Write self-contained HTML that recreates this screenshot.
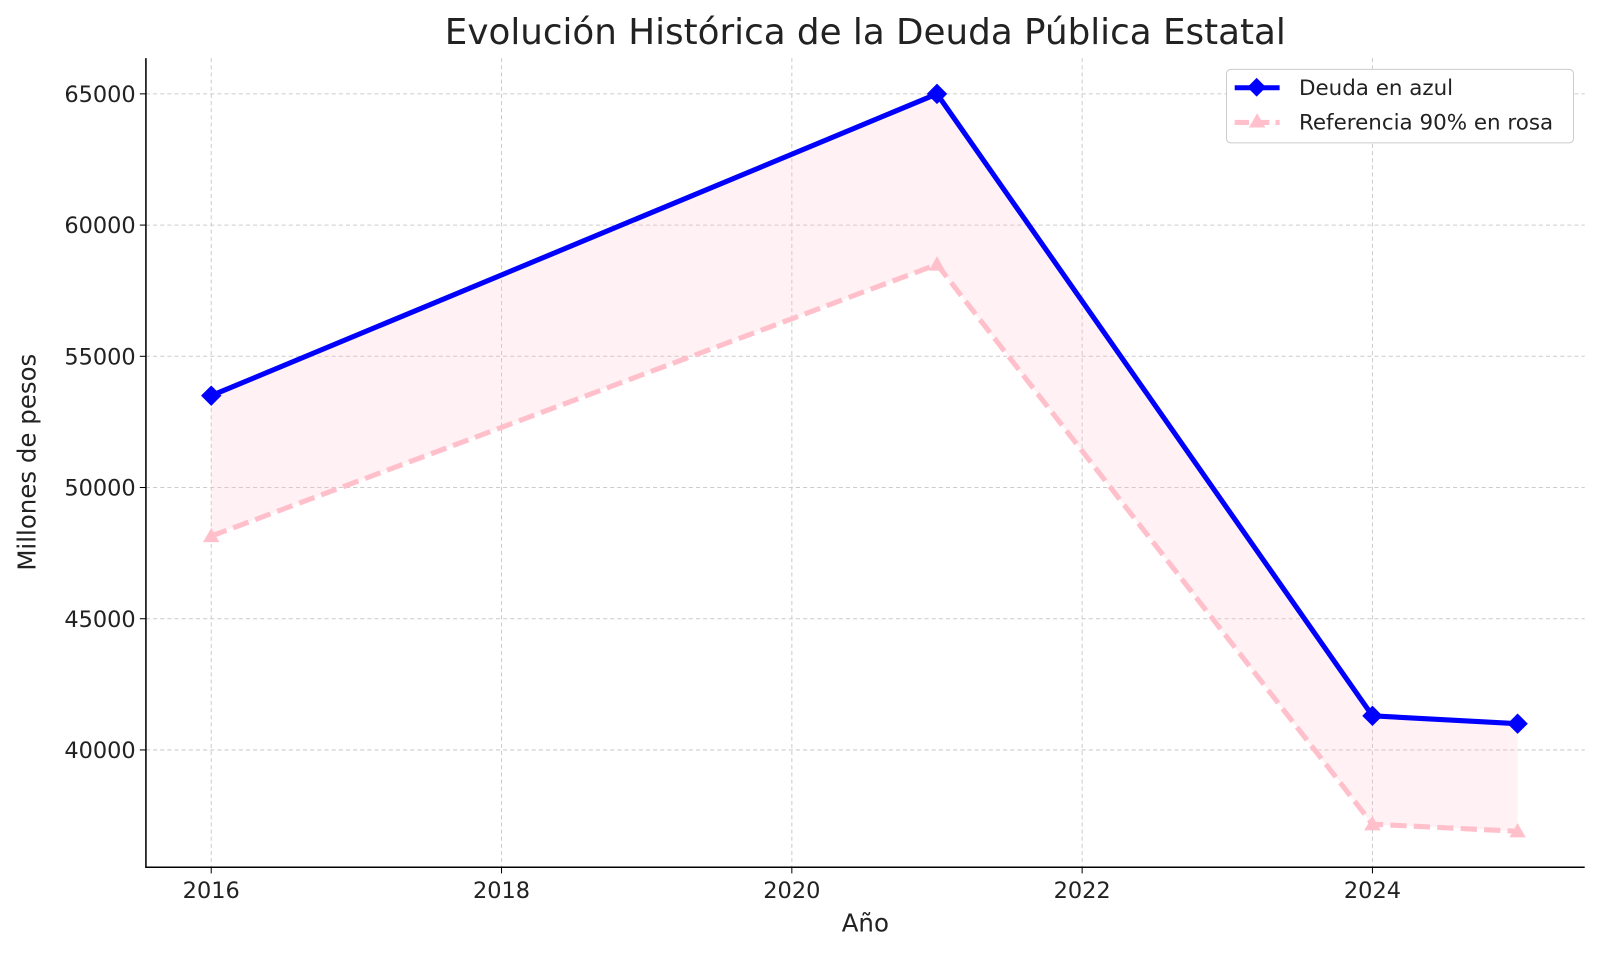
<!DOCTYPE html>
<html><head><meta charset="utf-8"><style>
body{margin:0;background:#fff;}
svg text{font-family:"DejaVu Sans","Liberation Sans",sans-serif;fill:#222;}
</style></head><body>
<svg id="chart" width="1600" height="954" viewBox="0 0 1568 935" preserveAspectRatio="none" xmlns="http://www.w3.org/2000/svg">
<text x="848" y="43" font-size="35" text-anchor="middle" fill="#333">Evolución Histórica de la Deuda Pública Estatal</text>
<g id="grid"></g><g id="fill"></g><g id="series"></g><g id="axes"></g>
<text x="848" y="913" font-size="24" text-anchor="middle">Año</text>
<text transform="translate(35,453) rotate(-90)" font-size="24" text-anchor="middle">Millones de pesos</text>
<g>
<rect x="1202" y="68" width="340" height="72" rx="4" fill="#fff" stroke="#ccc"/>
<line x1="1210" y1="86" x2="1254" y2="86" stroke="#0000ff" stroke-width="5"/>
<rect x="1225" y="79" width="13" height="13" fill="#0000ff" transform="rotate(45 1231.5 85.5)"/>
<text x="1273" y="93" font-size="21">Deuda en azul</text>
<line x1="1210" y1="120" x2="1254" y2="120" stroke="#ffc0cb" stroke-width="5" stroke-dasharray="14,6"/>
<polygon points="1232,111 1240,125 1224,125" fill="#ffc0cb"/>
<text x="1273" y="127" font-size="21">Referencia 90% en rosa</text>
</g>
</svg>
<script>
const years=[2016,2021,2024,2025];
const deuda=[53500,65000,41300,41000];
const referencia=[48150,58500,37170,36900];
const xTicks=[2016,2018,2020,2022,2024];
const yTicks=[40000,45000,50000,55000,60000,65000];
const L=143,R=1553,T=57,B=850;
const xs=v=>207+(v-2016)*142.25;
const ys=v=>92+(65000-v)*0.025720;
const NS="http://www.w3.org/2000/svg";
function mk(tag,attrs,parent){const e=document.createElementNS(NS,tag);for(const k in attrs)e.setAttribute(k,attrs[k]);document.getElementById(parent).appendChild(e);return e;}
xTicks.forEach(t=>{
 const g=mk('line',{x1:xs(t),x2:xs(t),y1:T,y2:B,stroke:'#ccc','stroke-dasharray':'4,3'},'grid');
 
 
 const k=mk('line',{x1:xs(t),x2:xs(t),y1:B,y2:B+6,stroke:'#000'},'axes');
 
 
 const tx=mk('text',{x:xs(t),y:B+30,'font-size':22,'text-anchor':'middle'},'axes');tx.textContent=t;
 
 
});
yTicks.forEach(t=>{
 const g=mk('line',{x1:L,x2:R,y1:ys(t),y2:ys(t),stroke:'#ccc','stroke-dasharray':'4,3'},'grid');
 
 
 const k=mk('line',{x1:L-6,x2:L,y1:ys(t),y2:ys(t),stroke:'#000'},'axes');
 
 
 const tx=mk('text',{x:L-10,y:ys(t)+8,'font-size':22,'text-anchor':'end'},'axes');tx.textContent=t;
 
 
});
const ax=mk('path',{d:`M${L},${T}V${B}H${R}`,fill:'none',stroke:'#000','stroke-width':1.5},'axes');


let pts=years.map((y,i)=>xs(y)+','+ys(deuda[i])).concat(years.slice().reverse().map((y,j)=>xs(y)+','+ys(referencia[years.length-1-j])));
const f=mk('polygon',{points:pts.join(' '),fill:'#ffc0cb','fill-opacity':0.22},'fill');


const rl=mk('polyline',{points:years.map((y,i)=>xs(y)+','+ys(referencia[i])).join(' '),fill:'none',stroke:'#ffc0cb','stroke-width':5,'stroke-dasharray':'16,7'},'series');


years.forEach((y,i)=>{const x=xs(y),v=ys(referencia[i]);
 const m=mk('polygon',{points:`${x},${v-8} ${x+8},${v+6} ${x-8},${v+6}`,fill:'#ffc0cb'},'series');
 
 });
const dl=mk('polyline',{points:years.map((y,i)=>xs(y)+','+ys(deuda[i])).join(' '),fill:'none',stroke:'#0000ff','stroke-width':5,'stroke-linejoin':'round'},'series');


years.forEach((y,i)=>{const x=xs(y),v=ys(deuda[i]);
 const m=mk('polygon',{points:`${x},${v-10} ${x+10},${v} ${x},${v+10} ${x-10},${v}`,fill:'#0000ff'},'series');
 
 });
</script>
</body></html>
